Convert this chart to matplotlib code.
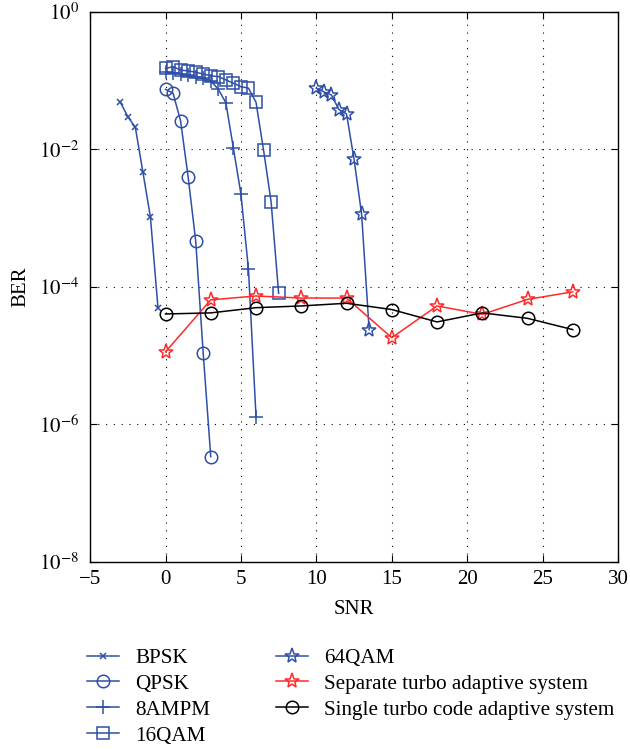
import numpy as np
import matplotlib
matplotlib.use("Agg")
import matplotlib.pyplot as plt
from matplotlib.ticker import NullLocator

plt.rcParams['font.family'] = ['Liberation Serif', 'DejaVu Serif']
plt.rcParams['mathtext.fontset'] = 'stix'

# ---------------------------
# Data
# ---------------------------
snr_bpsk = [-3, -2.5, -2, -1.5, -1, -0.5]
ber_bpsk = [0.049, 0.030, 0.021, 0.0047, 0.00104, 5.0e-5]

snr_qpsk = [0, 0.5, 1, 1.5, 2, 2.5, 3]
ber_qpsk = [0.075, 0.066, 0.026, 0.0040, 4.7e-4, 1.08e-5, 3.4e-7]

snr_8ampm = [0, 0.5, 1, 1.5, 2, 2.5, 3, 3.5, 4, 4.5, 5, 5.5, 6]
ber_8ampm = [0.135, 0.13, 0.125, 0.12, 0.115, 0.11, 0.10, 0.075, 0.048,
             0.0105, 0.00225, 1.8e-4, 1.3e-6]

snr_16qam = [0, 0.5, 1, 1.5, 2, 2.5, 3, 3.5, 4, 4.5, 5, 5.5, 6, 6.5, 7, 7.5]
ber_16qam = [0.151, 0.160, 0.143, 0.139, 0.133, 0.125, 0.118, 0.115, 0.103,
             0.092, 0.082, 0.078, 0.0486, 0.0098, 0.00174, 8.1e-5]

snr_64qam = [10, 10.5, 11, 11.5, 12, 12.5, 13, 13.5]
ber_64qam = [0.078, 0.069, 0.062, 0.038, 0.033, 0.0072, 0.00115, 2.4e-5]

snr_sys = [0, 3, 6, 9, 12, 15, 18, 21, 24, 27]
ber_separate = [1.14e-5, 6.5e-5, 7.4e-5, 6.9e-5, 6.9e-5, 1.83e-5, 5.3e-5,
                4.0e-5, 6.6e-5, 8.5e-5]
ber_single = [4.05e-5, 4.2e-5, 5.0e-5, 5.3e-5, 5.8e-5, 4.7e-5, 3.1e-5,
              4.2e-5, 3.5e-5, 2.4e-5]

blue = '#2f4fa6'
red = '#ff2a2a'

fig = plt.figure(figsize=(6.3, 7.5), dpi=100)
ax = fig.add_axes([0.143, 0.2507, 0.838, 0.7333])

lw = 1.1
ax.semilogy(snr_bpsk, ber_bpsk, '-x', color=blue, lw=lw, ms=5, mew=1.1, label='BPSK')
ax.semilogy(snr_qpsk, ber_qpsk, '-o', color=blue, lw=lw, ms=9, mfc='none', mew=1.1, label='QPSK')
ax.semilogy(snr_8ampm, ber_8ampm, '-+', color=blue, lw=lw, ms=10, mew=1.1, label='8AMPM')
ax.semilogy(snr_16qam, ber_16qam, '-s', color=blue, lw=lw, ms=8, mfc='none', mew=1.1, label='16QAM')
ax.semilogy(snr_64qam, ber_64qam, '-*', color=blue, lw=lw, ms=11, mfc='none', mew=1.1, label='64QAM')
ax.semilogy(snr_sys, ber_separate, '-*', color=red, lw=lw, ms=11, mfc='none', mew=1.1,
            label='Separate turbo adaptive system')
ax.semilogy(snr_sys, ber_single, '-o', color='black', lw=lw, ms=9, mfc='none', mew=1.1,
            label='Single turbo code adaptive system')

ax.set_xlim(-5, 30)
ax.set_ylim(1e-8, 1)
ax.set_xticks(np.arange(-5, 31, 5))
ax.set_yticks([1e-8, 1e-6, 1e-4, 1e-2, 1])
ax.set_yticklabels([r'$10^{-8}$', r'$10^{-6}$', r'$10^{-4}$', r'$10^{-2}$', r'$10^{0}$'])
ax.yaxis.set_minor_locator(NullLocator())
ax.tick_params(direction='in', top=True, right=True, labelsize=15, length=5, width=0.8)
ax.tick_params(axis='x', pad=6)
ax.tick_params(axis='y', pad=8)
ax.grid(True, which='major', linestyle=(0, (1, 6)), color='black', lw=0.8)
for s in ax.spines.values():
    s.set_linewidth(1.0)

ax.set_xlabel('SNR', fontsize=15, labelpad=8)
ax.set_ylabel('BER', fontsize=15, labelpad=6)

handles, labels = ax.get_legend_handles_labels()
fig.legend(handles, labels, ncol=2, frameon=False, fontsize=15.2,
           loc='upper left', bbox_to_anchor=(0.124, 0.147),
           handlelength=1.55, handletextpad=0.75, columnspacing=3.1,
           labelspacing=0.29, borderaxespad=0)

fig.savefig('out.png', dpi=100)
